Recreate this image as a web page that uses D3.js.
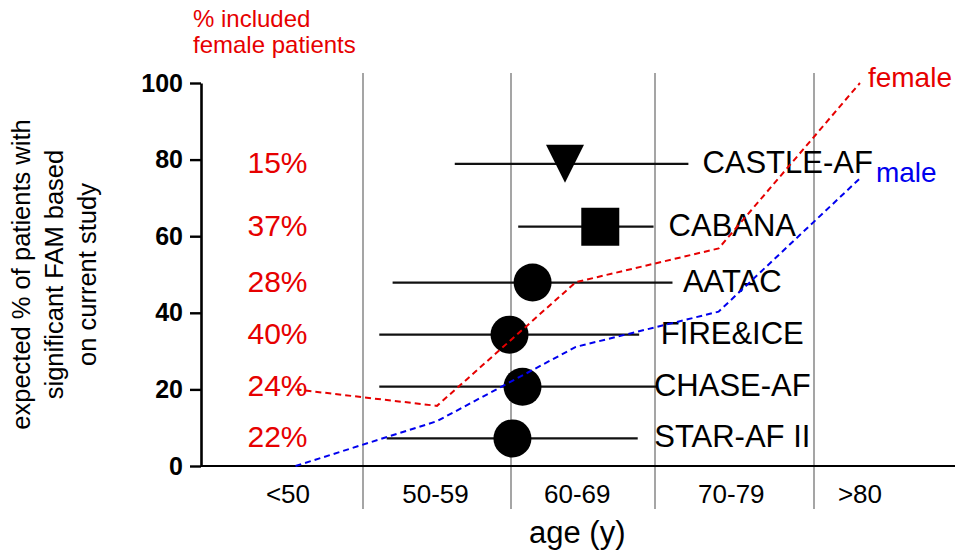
<!DOCTYPE html>
<html>
<head>
<meta charset="utf-8">
<script src="https://cdn.jsdelivr.net/npm/d3@7"></script>
<style>
  body { margin: 0; background: #fff; }
  text { font-family: "Liberation Sans", Arial, Helvetica, sans-serif; }
</style>
</head>
<body>
<svg id="chart" width="960" height="553"></svg>
<script>
// studies, top to bottom
const studies = ["CASTLE-AF", "CABANA", "AATAC", "FIRE&ICE", "CHASE-AF", "STAR-AF II"];
const markers = ["triangle", "square", "circle", "circle", "circle", "circle"];
const expectedPct = [78.9, 62.5, 47.9, 34.3, 20.7, 7.2];
const ageMid = [63.75, 66.2, 61.5, 59.9, 60.8, 60.1];
const ageLow = [56.2, 60.5, 52.0, 51.1, 51.1, 51.6];
const ageHigh = [72.1, 69.9, 71.1, 68.9, 70.1, 68.8];
const femaleIncluded = [15, 37, 28, 40, 24, 22];

// age groups
const ageGroups = ["<50", "50-59", "60-69", "70-79", ">80"];
const groupPos = [45, 54.9, 64.6, 74.8, 82.9];
const gridAges = [50, 60, 70, 80];

// expected % by sex across age groups
const lineAges = [45.5, 55, 64.5, 74, 82.9];
const female = [20, 15.7, 48, 56.8, 100];
const male = [0, 11.7, 31.1, 40.3, 75.1];

const yTicks = [0, 20, 40, 60, 80, 100];

const svg = d3.select("#chart");
const margin = {top: 83, right: 5, bottom: 87, left: 201};
const width = +svg.attr("width") - margin.left - margin.right;
const height = +svg.attr("height") - margin.top - margin.bottom;
const red = "#e60000", blue = "#0000ee";

// the figure's age columns are not evenly wide
const x = d3.scaleLinear()
    .domain([39.2, 50, 60, 70, 80, 88.9])
    .range([0, 162, 310, 454, 613, width]);
const y = d3.scaleLinear().domain([0, 100]).range([height, 0]);

const g = svg.append("g")
    .attr("transform", "translate(" + margin.left + "," + margin.top + ")");

// grid
g.selectAll(".grid")
    .data(gridAges)
  .enter().append("line")
    .attr("x1", d => x(d)).attr("x2", d => x(d))
    .attr("y1", -10).attr("y2", height + 43)
    .attr("stroke", "#8f8f8f").attr("stroke-width", 1.6);

// x axis line + group labels
g.append("line")
    .attr("x1", 0).attr("x2", width)
    .attr("y1", height).attr("y2", height)
    .attr("stroke", "#000").attr("stroke-width", 2);

g.selectAll(".group")
    .data(ageGroups)
  .enter().append("text")
    .attr("x", (d, i) => x(groupPos[i]))
    .attr("y", height + 37)
    .attr("text-anchor", "middle")
    .style("font-size", "26px")
    .text(d => d);

g.append("text")
    .attr("x", x(64.6))
    .attr("y", height + 77)
    .attr("text-anchor", "middle")
    .style("font-size", "31px")
    .text("age (y)");

// y axis
const yAxis = g.append("g")
    .call(d3.axisLeft(y).tickValues(yTicks).tickSize(11).tickSizeOuter(0).tickPadding(7));
yAxis.select(".domain").attr("stroke-width", 2.6);
yAxis.selectAll(".tick line").attr("stroke-width", 2.4);
yAxis.selectAll(".tick text")
    .style("font-size", "25px").style("font-weight", "bold")
    .style("font-family", "'Liberation Sans', Arial, sans-serif")
    .attr("fill", "#000");

const yTitle = ["expected % of patients with", "significant FAM based", "on current study"];
svg.append("g")
    .attr("transform", "translate(0," + (margin.top + height / 2) + ") rotate(-90)")
  .selectAll("text")
    .data(yTitle)
  .enter().append("text")
    .attr("x", 0)
    .attr("y", (d, i) => 30 + i * 33)
    .attr("text-anchor", "middle")
    .style("font-size", "25.5px")
    .text(d => d);

// header
svg.append("g").selectAll("text")
    .data(["% included", "female patients"])
  .enter().append("text")
    .attr("x", 193)
    .attr("y", (d, i) => 27 + i * 26)
    .attr("fill", red)
    .style("font-size", "24px")
    .text(d => d);

const rows = studies.map((s, i) => ({
  study: s, marker: markers[i], v: expectedPct[i],
  mid: ageMid[i], lo: ageLow[i], hi: ageHigh[i], fem: femaleIncluded[i]
}));

// age ranges
g.selectAll(".ci")
    .data(rows)
  .enter().append("line")
    .attr("x1", d => x(d.lo)).attr("x2", d => x(d.hi))
    .attr("y1", d => y(d.v)).attr("y2", d => y(d.v))
    .attr("stroke", "#111").attr("stroke-width", 2.2);

// markers
const r = 19;
const downTriangle = "M" + (-r) + "," + (-r) + "L" + r + "," + (-r) + "L0," + r + "Z";
g.selectAll(".mark")
    .data(rows)
  .enter().append("path")
    .attr("transform", d => "translate(" + x(d.mid) + "," + y(d.v) + ")")
    .attr("d", d => {
      if (d.marker === "triangle") return downTriangle;
      if (d.marker === "square") return d3.symbol(d3.symbolSquare, 4 * r * r)();
      return d3.symbol(d3.symbolCircle, Math.PI * r * r)();
    })
    .attr("fill", "#000");

// study names
g.selectAll(".name")
    .data(rows)
  .enter().append("text")
    .attr("x", d => d.study === "CASTLE-AF" ? x(d.hi) + 14 : x(groupPos[3]) + 1)
    .attr("y", d => y(d.v) + 9)
    .attr("text-anchor", d => d.study === "CASTLE-AF" ? "start" : "middle")
    .style("font-size", "31px")
    .text(d => d.study);

// % female included
g.selectAll(".pct")
    .data(rows)
  .enter().append("text")
    .attr("x", x(44.3))
    .attr("y", d => y(d.v) + 9)
    .attr("text-anchor", "middle")
    .attr("fill", red)
    .style("font-size", "30px")
    .text(d => d.fem + "%");

// female / male lines
const line = d3.line().x((d, i) => x(lineAges[i])).y(d => y(d));
[[female, red, "female", 8, 4], [male, blue, "male", 16, 4]].forEach(([vals, col, name, dx, dy]) => {
  g.append("path")
      .datum(vals)
      .attr("d", line)
      .attr("fill", "none")
      .attr("stroke", col)
      .attr("stroke-width", 2)
      .attr("stroke-dasharray", "6,4");
  g.append("text")
      .attr("x", x(lineAges[lineAges.length - 1]) + dx)
      .attr("y", y(vals[vals.length - 1]) + dy)
      .attr("fill", col)
      .style("font-size", "28px")
      .text(name);
});
</script>
</body>
</html>
